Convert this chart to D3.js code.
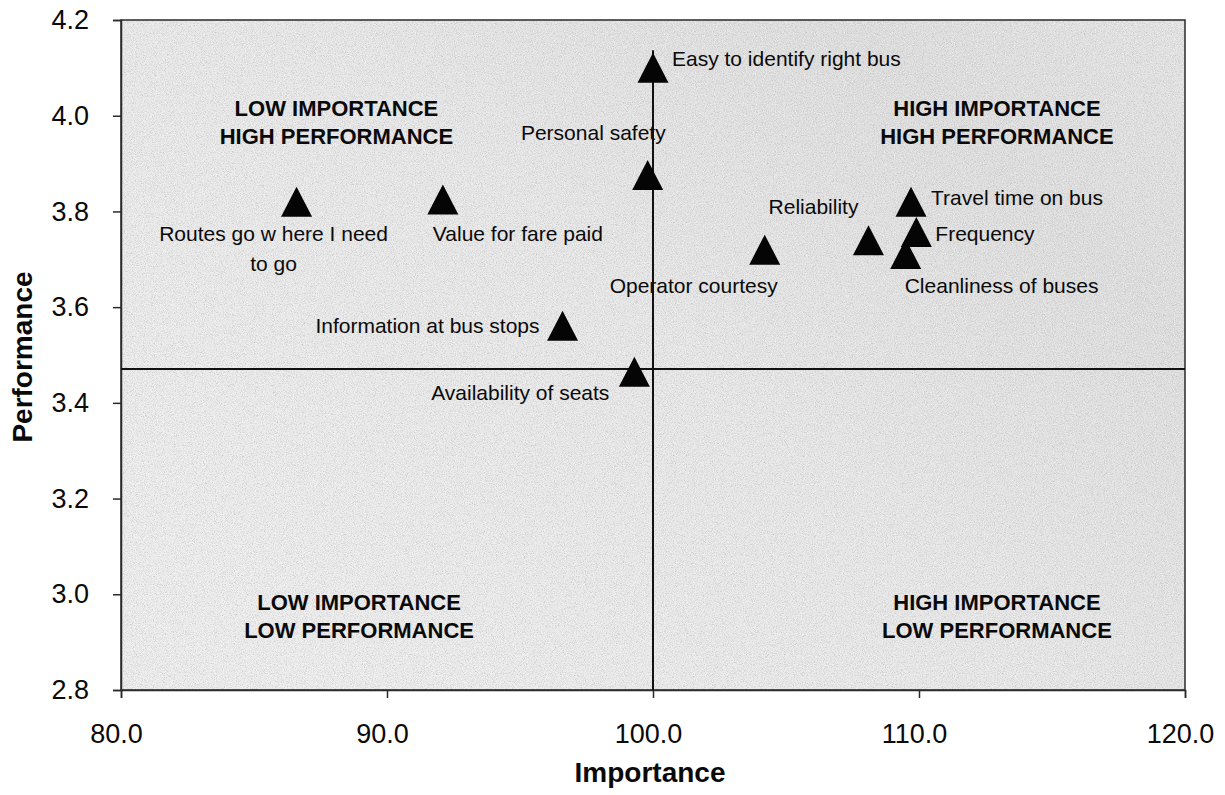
<!DOCTYPE html>
<html>
<head>
<meta charset="utf-8">
<script src="https://cdn.jsdelivr.net/npm/d3@7"></script>
<style>
  html, body { margin: 0; padding: 0; background: #ffffff; }
  svg { display: block; }
  text { font-family: "Liberation Sans", Arial, Helvetica, sans-serif; fill: #0a0a0a; }
</style>
</head>
<body>
<svg id="chart" width="1225" height="795"></svg>
<script>
// ---- data ----
const attributes = [
  "Easy to identify right bus", "Personal safety", "Routes go w here I need|to go",
  "Value for fare paid", "Information at bus stops", "Availability of seats",
  "Operator courtesy", "Reliability", "Travel time on bus", "Frequency",
  "Cleanliness of buses"
];
const importance  = [100.0, 99.8, 86.6, 92.1, 96.6, 99.3, 104.2, 108.1, 109.7, 109.9, 109.5];
const performance = [4.10, 3.876, 3.82, 3.825, 3.561, 3.465, 3.72, 3.74, 3.82, 3.757, 3.711];
const xTicks = [80, 90, 100, 110, 120];
const yTicks = [2.8, 3.0, 3.2, 3.4, 3.6, 3.8, 4.0, 4.2];
const meanImportance = 100.0;
const meanPerformance = 3.471;
const refLineTop = 4.137;
const quadrantText = [
  ["LOW IMPORTANCE", "HIGH PERFORMANCE"],
  ["HIGH IMPORTANCE", "HIGH PERFORMANCE"],
  ["LOW IMPORTANCE", "LOW PERFORMANCE"],
  ["HIGH IMPORTANCE", "LOW PERFORMANCE"]
];
const quadrantX = [88.1, 112.93, 88.95, 112.93];
const quadrantY = [4.0, 4.0, 3.0, 3.0];

// ---- layout (not data) ----
const labelLayout = [
  {dx: 19,  dy: -2,  anchor: "start"},
  {dx: 18,  dy: -35, anchor: "end"},
  {dx: -23, dy: 39,  anchor: "middle", lh: 30},
  {dx: -10, dy: 42,  anchor: "start"},
  {dx: -23, dy: 7,   anchor: "end"},
  {dx: -25, dy: 28,  anchor: "end"},
  {dx: 13,  dy: 43,  anchor: "end"},
  {dx: -10, dy: -26, anchor: "end"},
  {dx: 20,  dy: 3,   anchor: "start"},
  {dx: 19,  dy: 9,   anchor: "start"},
  {dx: -1,  dy: 39,  anchor: "start"}
];
const quadrantDy = [0, 0, 16, 16];

const svg = d3.select("#chart");
const L = 121, R = 1185, T = 20, B = 690;
const x = d3.scaleLinear().domain([80, 120]).range([L, R]);
const y = d3.scaleLinear().domain([2.8, 4.2]).range([B, T]);

// defs: gradient + noise
const defs = svg.append("defs");
const grad = defs.append("linearGradient").attr("id", "bg").attr("x1", "0").attr("x2", "1").attr("y1", "0.7").attr("y2", "0");
grad.append("stop").attr("offset", "0").attr("stop-color", "#ececec");
grad.append("stop").attr("offset", "0.45").attr("stop-color", "#e6e6e6");
grad.append("stop").attr("offset", "0.78").attr("stop-color", "#dcdcdc");
grad.append("stop").attr("offset", "1").attr("stop-color", "#e2e2e2");
const filt = defs.append("filter").attr("id", "noise").attr("x", 0).attr("y", 0).attr("width", "100%").attr("height", "100%");
filt.append("feTurbulence").attr("type", "fractalNoise").attr("baseFrequency", "1.1").attr("numOctaves", 2).attr("seed", 7).attr("result", "t");
filt.append("feColorMatrix").attr("in", "t").attr("type", "matrix")
  .attr("values", "0 0 0 0 0.45  0 0 0 0 0.45  0 0 0 0 0.45  2.4 0 0 0 -1.05");
const filt2 = defs.append("filter").attr("id", "noise2").attr("x", 0).attr("y", 0).attr("width", "100%").attr("height", "100%");
filt2.append("feTurbulence").attr("type", "fractalNoise").attr("baseFrequency", "0.9").attr("numOctaves", 1).attr("seed", 19).attr("result", "t");
filt2.append("feColorMatrix").attr("in", "t").attr("type", "matrix")
  .attr("values", "0 0 0 0 1  0 0 0 0 1  0 0 0 0 1  2.2 0 0 0 -0.95");

svg.append("rect").attr("x", L).attr("y", T).attr("width", R - L).attr("height", B - T).attr("fill", "url(#bg)");
svg.append("rect").attr("x", L).attr("y", T).attr("width", R - L).attr("height", B - T)
  .attr("filter", "url(#noise)").attr("opacity", 0.6);
svg.append("rect").attr("x", L).attr("y", T).attr("width", R - L).attr("height", B - T)
  .attr("filter", "url(#noise2)").attr("opacity", 0.6);

// frame
svg.append("rect").attr("x", L).attr("y", T).attr("width", R - L).attr("height", B - T)
  .attr("fill", "none").attr("stroke", "#2a2a2a").attr("stroke-width", 1.5);

// axes
const xAxis = d3.axisBottom(x).tickValues(xTicks).tickFormat(d3.format(".1f")).tickSizeOuter(0).tickSize(8).tickPadding(26);
const gx = svg.append("g").attr("transform", `translate(0,${B})`).call(xAxis);
gx.select(".domain").attr("stroke", "#2a2a2a").attr("stroke-width", 1.5);
gx.selectAll(".tick line").attr("stroke", "#2a2a2a").attr("stroke-width", 1.5);
gx.selectAll(".tick text").attr("font-size", 27).attr("fill", "#0a0a0a").attr("dx", -5)
  .style("font-family", '"Liberation Sans", Arial, sans-serif');

const yAxis = d3.axisLeft(y).tickValues(yTicks).tickFormat(d3.format(".1f")).tickSizeOuter(0).tickSize(8).tickPadding(24);
const gy = svg.append("g").attr("transform", `translate(${L},0)`).call(yAxis);
gy.select(".domain").attr("stroke", "#2a2a2a").attr("stroke-width", 1.5);
gy.selectAll(".tick line").attr("stroke", "#2a2a2a").attr("stroke-width", 1.5);
gy.selectAll(".tick text").attr("font-size", 27).attr("fill", "#0a0a0a")
  .style("font-family", '"Liberation Sans", Arial, sans-serif');

// axis titles
svg.append("text").attr("x", 650).attr("y", 782).attr("text-anchor", "middle")
  .attr("font-size", 28).attr("font-weight", "bold").text("Importance");
svg.append("text").attr("transform", "translate(32,357) rotate(-90)").attr("text-anchor", "middle")
  .attr("font-size", 28).attr("font-weight", "bold").text("Performance");

// quadrant labels
quadrantText.forEach((lines, i) => {
  const t = svg.append("text").attr("text-anchor", "middle").attr("font-size", 22).attr("font-weight", "bold");
  lines.forEach((ln, j) => {
    t.append("tspan").attr("x", x(quadrantX[i])).attr("y", y(quadrantY[i]) + quadrantDy[i] + j * 28).text(ln);
  });
});

// point labels
attributes.forEach((name, i) => {
  const lay = labelLayout[i];
  const px = x(importance[i]), py = y(performance[i]);
  const t = svg.append("text").attr("font-size", 21).attr("text-anchor", lay.anchor);
  name.split("|").forEach((ln, j) => {
    t.append("tspan").attr("x", px + lay.dx).attr("y", py + lay.dy + j * (lay.lh || 0)).text(ln);
  });
});

// reference lines
svg.append("line").attr("x1", L).attr("x2", R).attr("y1", y(meanPerformance)).attr("y2", y(meanPerformance))
  .attr("stroke", "#111").attr("stroke-width", 2);
svg.append("line").attr("x1", x(meanImportance)).attr("x2", x(meanImportance)).attr("y1", y(refLineTop)).attr("y2", B)
  .attr("stroke", "#111").attr("stroke-width", 2);

// triangles
const tri = "M0,-15L15.5,15L-15.5,15Z";
svg.append("g").selectAll("path").data(attributes).join("path")
  .attr("d", tri)
  .attr("transform", (d, i) => `translate(${x(importance[i])},${y(performance[i])})`)
  .attr("fill", "#050505");
</script>
</body>
</html>
